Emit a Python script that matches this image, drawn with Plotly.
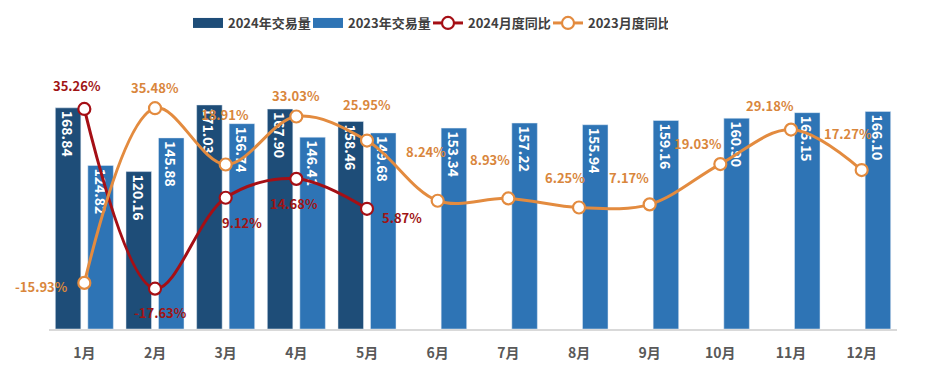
import plotly.graph_objects as go

months = ["1月", "2月", "3月", "4月", "5月", "6月", "7月", "8月", "9月", "10月", "11月", "12月"]
vol_2024 = [168.84, 120.16, 171.03, 167.90, 158.46, None, None, None, None, None, None, None]
vol_2023 = [124.82, 145.88, 156.74, 146.41, 149.68, 153.34, 157.22, 155.94, 159.16, 160.90, 165.15, 166.10]
yoy_2024 = [35.26, -17.63, 9.12, 14.68, 5.87, None, None, None, None, None, None, None]
yoy_2023 = [-15.93, 35.48, 18.91, 33.03, 25.95, 8.24, 8.93, 6.25, 7.17, 19.03, 29.18, 17.27]

# label offsets (pixels) relative to the marker: (dx, dy_down)
off_2024 = [(-7, -23), (5, 24), (16, 25), (-2, 25), (35, 9)]
off_2023 = [(-43, 4), (0, -21), (-1, -50), (0, -21), (0, -36), (-12, -49),
            (-18, -39), (-14, -30), (-21, -27), (-22, -21), (-21, -24), (-14, -37)]

C24_BAR = "#1E4D78"
C23_BAR = "#2E74B5"
C24_LINE = "#A50F15"
C23_LINE = "#E38B3F"
C24_TXT = "#A01414"
C23_TXT = "#D9863C"
FONT = "Noto Sans CJK SC"

fig = go.Figure()
# legend-only swatches for the bar series (wide rectangles)
for name, col in [("2024年交易量", C24_BAR), ("2023年交易量", C23_BAR)]:
    fig.add_trace(go.Scatter(name=name, x=[months[0]], y=[None], mode="lines",
                             line=dict(color=col, width=10), hoverinfo="skip"))

fig.add_trace(go.Bar(
    name="2024年交易量", x=months, y=vol_2024, marker_color=C24_BAR, showlegend=False,
    text=[f"{v:.2f}" if v is not None else "" for v in vol_2024],
    textposition="inside", insidetextanchor="end", textangle=90,
    constraintext="none",
    textfont=dict(family=FONT, size=14, color="white", weight="bold"),
))
fig.add_trace(go.Bar(
    name="2023年交易量", x=months, y=vol_2023, marker_color=C23_BAR, showlegend=False,
    text=[f"{v:.2f}" for v in vol_2023],
    textposition="inside", insidetextanchor="end", textangle=90,
    constraintext="none",
    textfont=dict(family=FONT, size=14, color="white", weight="bold"),
))
fig.add_trace(go.Scatter(
    name="2024月度同比", x=months, y=yoy_2024, yaxis="y2", mode="lines+markers",
    line=dict(color=C24_LINE, width=3, shape="spline", smoothing=1.0),
    marker=dict(size=12, color="white", line=dict(color=C24_LINE, width=2.2)),
))
fig.add_trace(go.Scatter(
    name="2023月度同比", x=months, y=yoy_2023, yaxis="y2", mode="lines+markers",
    line=dict(color=C23_LINE, width=3, shape="spline", smoothing=1.0),
    marker=dict(size=12, color="white", line=dict(color=C23_LINE, width=2.2)),
))

annotations = []
for m, v, (dx, dy) in zip(months, yoy_2024, off_2024):
    if v is None:
        continue
    annotations.append(dict(x=m, y=v, xref="x", yref="y2", text=f"{v:.2f}%",
                            showarrow=False, xshift=dx, yshift=-dy,
                            font=dict(family=FONT, size=13, color=C24_TXT, weight="bold")))
for m, v, (dx, dy) in zip(months, yoy_2023, off_2023):
    annotations.append(dict(x=m, y=v, xref="x", yref="y2", text=f"{v:.2f}%",
                            showarrow=False, xshift=dx, yshift=-dy,
                            font=dict(family=FONT, size=13, color=C23_TXT, weight="bold")))

fig.update_layout(
    width=936, height=374,
    margin=dict(l=41, r=47, t=59, b=53, autoexpand=False),
    paper_bgcolor="white", plot_bgcolor="white",
    barmode="group", bargap=0.08, bargroupgap=0.215,
    showlegend=True,
    legend=dict(orientation="h", xref="container", x=180 / 936, xanchor="left",
                yref="container", y=1.0, yanchor="top",
                font=dict(family=FONT, size=13, color="#404040", weight="bold"),
                entrywidth=75, entrywidthmode="pixels", traceorder="normal"),
    xaxis=dict(type="category", categoryorder="array", categoryarray=months,
               range=[-0.5, len(months) - 0.5], autorange=False,
               showline=True, linecolor="#D9D9D9", linewidth=1.5, showgrid=False, ticks="",
               ticklabelstandoff=10,
               tickfont=dict(family=FONT, size=14, color="#595959", weight="bold")),
    yaxis=dict(range=[0, 200], visible=False, showgrid=False),
    yaxis2=dict(range=[-29.5, 47.6], overlaying="y", side="right", visible=False, showgrid=False),
    annotations=annotations,
)

fig.write_html("out.html")
